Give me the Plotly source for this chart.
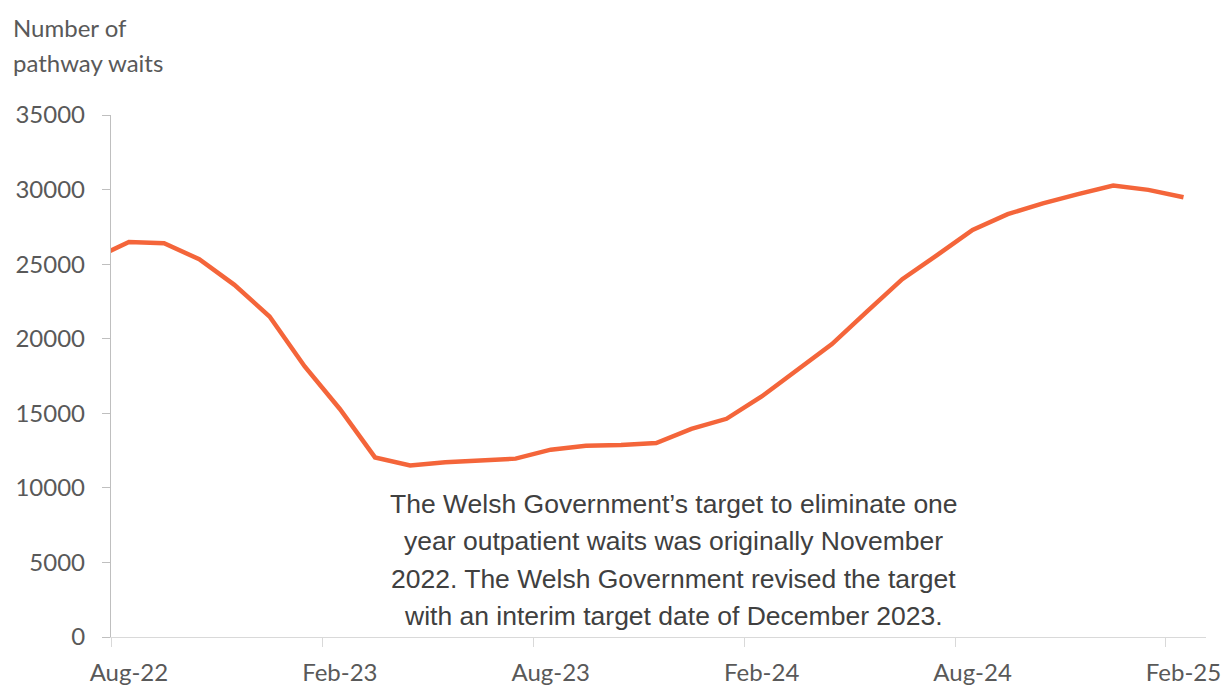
import plotly.graph_objects as go

# ---- data ----
months = ["Jul-22", "Aug-22", "Sep-22", "Oct-22", "Nov-22", "Dec-22",
          "Jan-23", "Feb-23", "Mar-23", "Apr-23", "May-23", "Jun-23",
          "Jul-23", "Aug-23", "Sep-23", "Oct-23", "Nov-23", "Dec-23",
          "Jan-24", "Feb-24", "Mar-24", "Apr-24", "May-24", "Jun-24",
          "Jul-24", "Aug-24", "Sep-24", "Oct-24", "Nov-24", "Dec-24",
          "Jan-25", "Feb-25"]
waits = [25350, 26490, 26400, 25330, 23610, 21490,
         18140, 15290, 12040, 11500, 11720, 11850,
         11960, 12560, 12830, 12870, 13010, 13950,
         14630, 16130, 17850, 19640, 21830, 23990,
         25620, 27300, 28350, 29080, 29690, 30270,
         29980, 29490]
tick_labels = ["Aug-22", "Feb-23", "Aug-23", "Feb-24", "Aug-24", "Feb-25"]
y_ticks = [0, 5000, 10000, 15000, 20000, 25000, 30000, 35000]
title_lines = ["Number of", "pathway waits"]
note_lines = ["The Welsh Government\u2019s target to eliminate one",
              "year outpatient waits was originally November",
              "2022. The Welsh Government revised the target",
              "with an interim target date of December 2023."]

# month index, Aug-22 = 0 (Jul-22 lies just outside the visible range)
first = months.index("Aug-22")
x = [i - first for i in range(len(months))]
label_pos = [months.index(t) - first for t in tick_labels]
boundary_pos = [p - 0.5 for p in label_pos]

LINE = "#F4653A"
TXT = "#595959"

fig = go.Figure(go.Scatter(x=x, y=waits, mode="lines",
                           line=dict(color=LINE, width=4.5),
                           hoverinfo="skip", showlegend=False))

fig.update_layout(
    width=1232, height=689,
    margin=dict(l=111, r=26, t=115, b=52),
    paper_bgcolor="white", plot_bgcolor="white",
    xaxis=dict(range=[-0.51, 30.64], showgrid=False, zeroline=False,
               automargin=False,
               showline=True, linecolor="#d9d9d9", linewidth=1.3,
               tickmode="array", tickvals=label_pos, ticktext=tick_labels,
               ticks="", ticklabelstandoff=14,
               tickfont=dict(family="Lato", size=24, color=TXT),
               minor=dict(tickmode="array", tickvals=boundary_pos,
                          ticks="outside", ticklen=9, tickwidth=1.3,
                          tickcolor="#d9d9d9", showgrid=False)),
    yaxis=dict(range=[0, 35000], showgrid=False, zeroline=False,
               automargin=False,
               showline=True, linecolor="#bfbfbf", linewidth=1.3,
               tickmode="array", tickvals=y_ticks,
               ticktext=[str(v) for v in y_ticks],
               ticks="outside", ticklen=8, tickwidth=1.3, tickcolor="#bfbfbf",
               ticklabelstandoff=12,
               tickfont=dict(family="Lato", size=24, color=TXT)),
)

# axis title lines (top-left)
for line, yp in zip(title_lines, [1.1684, 1.1014]):
    fig.add_annotation(text=line, xref="paper", yref="paper", x=-0.0915, y=yp,
                       xanchor="left", yanchor="middle", showarrow=False,
                       font=dict(family="Lato", size=24, color=TXT))

# explanatory note
for line, yp in zip(note_lines, [0.2555, 0.1847, 0.112, 0.0411]):
    fig.add_annotation(text=line, xref="paper", yref="paper", x=0.514, y=yp,
                       xanchor="center", yanchor="middle", showarrow=False,
                       font=dict(family="Liberation Sans, Arial", size=26.5,
                                 color="#404040"))

fig.write_html("out.html")
